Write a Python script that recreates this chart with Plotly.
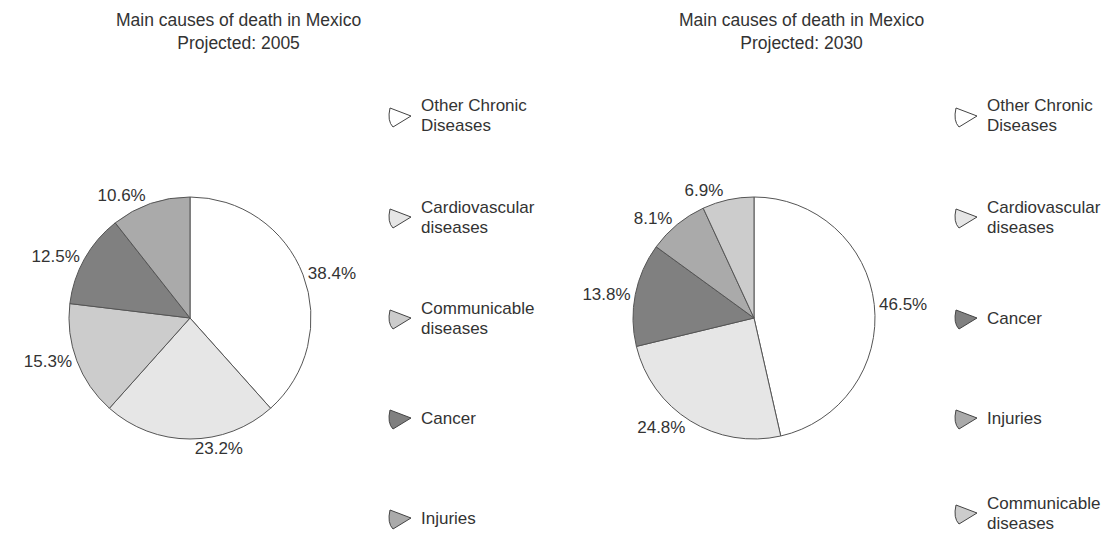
import plotly.graph_objects as go

W, H = 1112, 535

# ---- data ----
labels_2005 = ["Other Chronic Diseases", "Cardiovascular diseases", "Communicable diseases", "Cancer", "Injuries"]
values_2005 = [38.4, 23.2, 15.3, 12.5, 10.6]
labels_2030 = ["Other Chronic Diseases", "Cardiovascular diseases", "Cancer", "Injuries", "Communicable diseases"]
values_2030 = [46.5, 24.8, 13.8, 8.1, 6.9]
legend_2005 = [["Other Chronic", "Diseases"], ["Cardiovascular", "diseases"], ["Communicable", "diseases"], ["Cancer"], ["Injuries"]]
legend_2030 = [["Other Chronic", "Diseases"], ["Cardiovascular", "diseases"], ["Cancer"], ["Injuries"], ["Communicable", "diseases"]]
titles = ["Main causes of death in Mexico<br>Projected: 2005", "Main causes of death in Mexico<br>Projected: 2030"]

color_map = {
    "Other Chronic Diseases": "#ffffff",
    "Cardiovascular diseases": "#e6e6e6",
    "Communicable diseases": "#cccccc",
    "Cancer": "#808080",
    "Injuries": "#aaaaaa",
}
FONT = "Liberation Sans, Arial, sans-serif"
TXT = "#333333"


def px_x(x):
    return x / W


def px_y(y):
    return 1 - y / H


fig = go.Figure()

pies = [
    (labels_2005, values_2005, 190, 318),
    (labels_2030, values_2030, 754, 318),
]
R = 121
for labels, values, cx, cy in pies:
    fig.add_trace(go.Pie(
        labels=labels, values=values, sort=False, direction="clockwise", rotation=0,
        marker=dict(colors=[color_map[l] for l in labels], line=dict(color="#555555", width=1)),
        texttemplate="%{value:.1f}%", textposition="outside",
        textfont=dict(family=FONT, size=17, color=TXT),
        domain=dict(x=[px_x(cx - R), px_x(cx + R)], y=[px_y(cy + R), px_y(cy - R)]),
        showlegend=False, hoverinfo="label+percent",
    ))

annotations = []
shapes = []
# titles
for t, cx in zip(titles, [238, 801]):
    annotations.append(dict(text=t, x=px_x(cx), y=px_y(8), xref="paper", yref="paper",
                            xanchor="center", yanchor="top", showarrow=False,
                            font=dict(family=FONT, size=17.5, color=TXT), align="center"))

# legends
item_y_left = [116, 217, 318, 418, 518]
item_y_right = [116, 217, 318, 418, 513]
for names, keys, icon_x, text_x, item_y in [(legend_2005, labels_2005, 390, 419, item_y_left),
                                            (legend_2030, labels_2030, 956, 985, item_y_right)]:
    for lines, key, y in zip(names, keys, item_y):
        x0 = icon_x
        path = (f"M {px_x(x0 + 21)},{px_y(y)} "
                f"L {px_x(x0)},{px_y(y - 8)} "
                f"Q {px_x(x0 - 3)},{px_y(y + 5)} {px_x(x0 + 3)},{px_y(y + 11)} Z")
        shapes.append(dict(type="path", path=path, xref="paper", yref="paper",
                           fillcolor=color_map[key], line=dict(color="#444444", width=1)))
        n = len(lines)
        for i, line in enumerate(lines):
            ly = y + (i - (n - 1) / 2) * 20
            annotations.append(dict(text=line, x=px_x(text_x), y=px_y(ly), xref="paper", yref="paper",
                                    xanchor="left", yanchor="middle", showarrow=False, align="left",
                                    font=dict(family=FONT, size=17, color=TXT)))

fig.update_layout(
    width=W, height=H,
    margin=dict(l=0, r=0, t=0, b=0),
    paper_bgcolor="white", plot_bgcolor="white",
    annotations=annotations, shapes=shapes,
    showlegend=False,
)
fig.write_html("out.html")
